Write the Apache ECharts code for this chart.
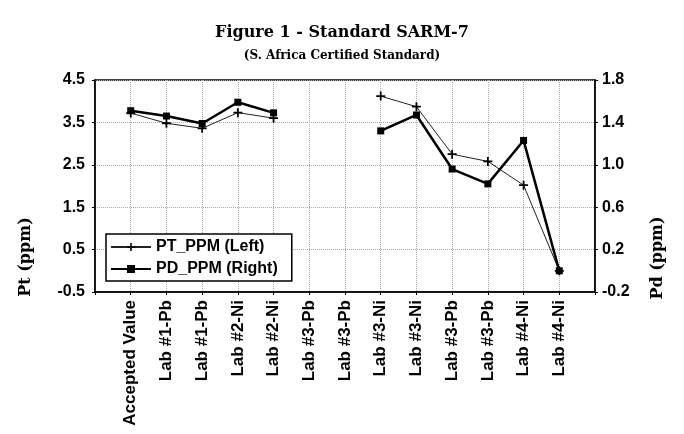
<!DOCTYPE html>
<html>
<head>
<meta charset="utf-8">
<script src="https://cdn.jsdelivr.net/npm/echarts@6/dist/echarts.min.js"></script>
<style>
  html, body { margin: 0; padding: 0; background: #fff; }
  #chart { width: 684px; height: 434px; }
</style>
</head>
<body>
<div id="chart"></div>
<script>
// labs along the x axis
var categories = ['Accepted Value', 'Lab #1-Pb', 'Lab #1-Pb', 'Lab #2-Ni', 'Lab #2-Ni',
    'Lab #3-Pb', 'Lab #3-Pb', 'Lab #3-Ni', 'Lab #3-Ni', 'Lab #3-Pb', 'Lab #3-Pb',
    'Lab #4-Ni', 'Lab #4-Ni'];
// Pt, left axis (ppm)
var ptPpm = [3.72, 3.48, 3.36, 3.73, 3.6, null, null, 4.12, 3.87, 2.75, 2.58, 2.02, 0.0];
// Pd, right axis (ppm)
var pdPpm = [1.51, 1.46, 1.39, 1.59, 1.49, null, null, 1.32, 1.47, 0.96, 0.82, 1.23, 0.0];

var leftTicks = [-0.5, 0.5, 1.5, 2.5, 3.5, 4.5];
var rightTicks = [-0.2, 0.2, 0.6, 1.0, 1.4, 1.8];

// one empty slot each side so the points sit a full step in from the frame
var xData = [''].concat(categories, ['']);
function pad(arr) { return [null].concat(arr, [null]); }

var sansBold = { fontFamily: 'Liberation Sans', fontWeight: 'bold', color: '#000' };
var plus = 'path://M4,0h2v4h4v2h-4v4h-2v-4h-4v-2h4z';
var gridLine = { show: true, lineStyle: { color: '#aaa', type: 'dotted' } };

var chart = echarts.init(document.getElementById('chart'));
chart.setOption({
    backgroundColor: '#fff',
    animation: false,
    title: {
        text: 'Figure 1 - Standard SARM-7',
        subtext: '(S. Africa Certified Standard)',
        left: 'center',
        top: 20,
        itemGap: 9,
        textStyle: { fontFamily: 'DejaVu Serif', fontWeight: 'bold', fontSize: 16, color: '#000' },
        subtextStyle: { fontFamily: 'DejaVu Serif', fontWeight: 'bold', fontSize: 12, color: '#000' }
    },
    grid: {
        left: 95, right: 89, top: 80, bottom: 142,
        show: true, borderColor: '#000', borderWidth: 1.5
    },
    legend: {
        orient: 'vertical',
        left: 106, top: 234,
        itemWidth: 40, itemHeight: 10, itemGap: 6,
        padding: [5, 14, 4, 4],
        borderColor: '#000', borderWidth: 1.5,
        backgroundColor: '#fff',
        textStyle: { fontFamily: 'Liberation Sans', fontWeight: 'bold', fontSize: 16, color: '#000' },
        data: ['PT_PPM (Left)', 'PD_PPM (Right)']
    },
    xAxis: {
        type: 'category',
        data: xData,
        boundaryGap: false,
        axisLine: { onZero: false, lineStyle: { color: '#000', width: 1.5 } },
        axisTick: { show: true, length: 3, lineStyle: { color: '#000' } },
        axisLabel: Object.assign({ rotate: 90, fontSize: 17, margin: 8, interval: 0 }, sansBold),
        splitLine: gridLine
    },
    yAxis: [{
        type: 'value',
        min: -0.5, max: 4.5,
        position: 'left',
        axisLine: { show: true, lineStyle: { color: '#000', width: 1.5 } },
        axisTick: { show: true, length: 3, customValues: leftTicks, lineStyle: { color: '#000' } },
        axisLabel: Object.assign({
            fontSize: 16, margin: 10, customValues: leftTicks,
            formatter: function (v) { return v.toFixed(1); }
        }, sansBold),
        splitLine: gridLine
    }, {
        type: 'value',
        min: -0.2, max: 1.8,
        position: 'right',
        axisLine: { show: true, lineStyle: { color: '#000', width: 1.5 } },
        axisTick: { show: true, length: 3, customValues: rightTicks, lineStyle: { color: '#000' } },
        axisLabel: Object.assign({
            fontSize: 16, margin: 7, customValues: rightTicks,
            formatter: function (v) { return v.toFixed(1); }
        }, sansBold),
        splitLine: { show: false }
    }],
    graphic: [{
        type: 'text', x: 26, y: 257, rotation: Math.PI / 2,
        style: { text: 'Pt (ppm)', font: 'bold 16px "DejaVu Serif"', fill: '#000',
            textAlign: 'center', textVerticalAlign: 'middle' }
    }, {
        type: 'text', x: 658, y: 258, rotation: Math.PI / 2,
        style: { text: 'Pd (ppm)', font: 'bold 16px "DejaVu Serif"', fill: '#000',
            textAlign: 'center', textVerticalAlign: 'middle' }
    }],
    series: [{
        name: 'PT_PPM (Left)',
        type: 'line',
        yAxisIndex: 0,
        data: pad(ptPpm),
        connectNulls: false,
        symbol: plus,
        symbolSize: 9,
        lineStyle: { color: '#222', width: 1 },
        itemStyle: { color: '#000' }
    }, {
        name: 'PD_PPM (Right)',
        type: 'line',
        yAxisIndex: 1,
        data: pad(pdPpm),
        connectNulls: false,
        symbol: 'rect',
        symbolSize: 7,
        lineStyle: { color: '#000', width: 2.5 },
        itemStyle: { color: '#000' }
    }]
});
</script>
</body>
</html>
